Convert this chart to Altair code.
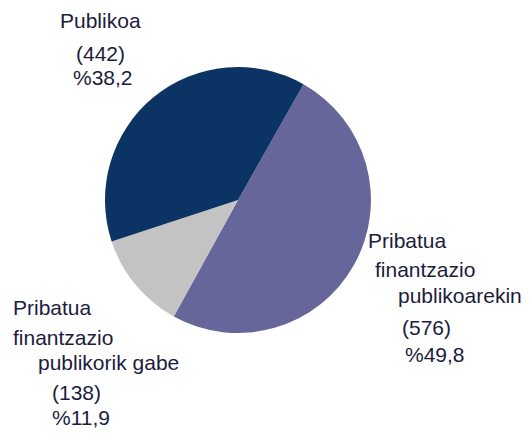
import math
import altair as alt
import pandas as pd

# Data
categories = ["Pribatua finantzazio publikoarekin", "Pribatua finantzazio publikorik gabe", "Publikoa"]
counts = [576, 138, 442]
percents = ["49,8", "11,9", "38,2"]
colors = ["#66669a", "#c3c3c3", "#0b3364"]

# Label lines per category (text only)
label_lines = [
    ["Pribatua", "finantzazio", "publikoarekin"],
    ["Pribatua", "finantzazio", "publikorik gabe"],
    ["Publikoa"],
]

pie_df = pd.DataFrame({"cat": categories, "n": counts, "idx": list(range(len(categories)))})

# Layout (page coordinates minus 8px margin)
start = math.radians(29.5)
cx, cy, r = 230, 192, 133
line_pos = [
    [(360, 240), (367, 269), (390, 295), (394, 327), (397, 354)],
    [(5, 307), (5, 337), (30, 362), (44, 392), (44, 417)],
    [(52, 20), (68, 53), (65, 77)],
]

rows = []
for i, lines in enumerate(label_lines):
    texts = lines + [f"({counts[i]})", f"%{percents[i]}"]
    for t, (x, y) in zip(texts, line_pos[i]):
        rows.append({"t": t, "x": x, "y": y})
lab_df = pd.DataFrame(rows)

pie = alt.Chart(pie_df).mark_arc(outerRadius=r, stroke=None).encode(
    theta=alt.Theta("n:Q", stack=True, scale=alt.Scale(range=[start, start + 2 * math.pi])),
    order=alt.Order("idx:Q"),
    color=alt.Color("cat:N", scale=alt.Scale(domain=categories, range=colors), legend=None),
    x=alt.value(cx),
    y=alt.value(cy),
)

labels = alt.Chart(lab_df).mark_text(
    align="left", baseline="alphabetic", font="Liberation Sans", fontSize=21, color="#1c1c3c"
).encode(
    x=alt.X("x:Q", scale=None),
    y=alt.Y("y:Q", scale=None),
    text="t:N",
)

chart = alt.layer(pie, labels).properties(
    width=515, height=422, autosize="none", padding=0
).configure_view(stroke=None)

chart.save("out.html", embed_options={"renderer": "svg", "actions": False})
